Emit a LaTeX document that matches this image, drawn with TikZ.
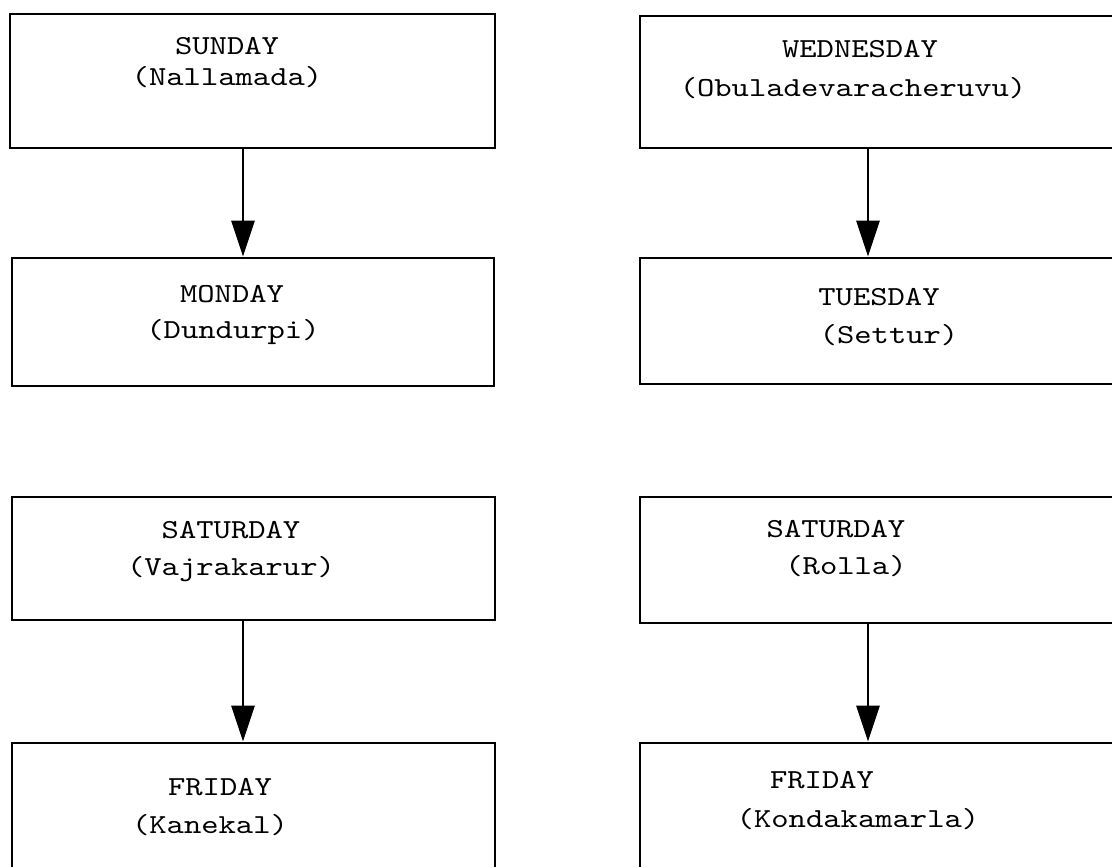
\documentclass[tikz,border=0pt]{standalone}
\usepackage{fontspec}
\newfontfamily\daytt{lmmono10-regular.otf}[FakeStretch=1.2]
\usetikzlibrary{arrows.meta}
\begin{document}
\begin{tikzpicture}[x=1pt,y=-1pt,
  daybox/.style={draw=black,line width=2.8pt,inner sep=0pt,rectangle},
  daytext/.style={anchor=base,inner sep=0pt,font=\fontsize{27.5}{33}\daytt},
  link/.style={draw=black,line width=2.8pt,-{Triangle[length=36pt,width=23pt]}}]
\useasboundingbox (0,0) rectangle (1112,867);
\fill[white] (0,0) rectangle (1112,867);
\clip (0,0) rectangle (1112,867);

% boxes (right column runs off the page edge)
\node[daybox,minimum width=485pt,minimum height=134pt] (sun)  at (252.5,81) {};
\node[daybox,minimum width=485pt,minimum height=132pt] (wed)  at (882.5,82) {};
\node[daybox,minimum width=482pt,minimum height=128pt] (mon)  at (253,322) {};
\node[daybox,minimum width=485pt,minimum height=126pt] (tue)  at (882.5,321) {};
\node[daybox,minimum width=483pt,minimum height=123pt] (satl) at (253.5,558.5) {};
\node[daybox,minimum width=485pt,minimum height=126pt] (satr) at (882.5,560) {};
\node[daybox,minimum width=483pt,minimum height=147pt] (fril) at (253.5,816.5) {};
\node[daybox,minimum width=485pt,minimum height=147pt] (frir) at (882.5,816.5) {};

% texts
\node[daytext] (tsun)  at (227,55)  {SUNDAY};
\node[daytext] (psun)  at (227,85)  {(Nallamada)};
\node[daytext] (twed)  at (860,58)  {WEDNESDAY};
\node[daytext] (pwed)  at (853,96)  {(Obuladevaracheruvu)};
\node[daytext] (tmon)  at (232,302) {MONDAY};
\node[daytext] (pmon)  at (233,338) {(Dundurpi)};
\node[daytext] (ttue)  at (879,305) {TUESDAY};
\node[daytext] (ptue)  at (889,343) {(Settur)};
\node[daytext] (tsatl) at (231,538) {SATURDAY};
\node[daytext] (psatl) at (231,575) {(Vajrakarur)};
\node[daytext] (tsatr) at (836,537) {SATURDAY};
\node[daytext] (psatr) at (846,574) {(Rolla)};
\node[daytext] (tfril) at (220,795) {FRIDAY};
\node[daytext] (pfril) at (210,833) {(Kanekal)};
\node[daytext] (tfrir) at (822,788) {FRIDAY};
\node[daytext] (pfrir) at (858,827) {(Kondakamarla)};

% arrow columns
\coordinate (lcol) at (243,0);
\coordinate (rcol) at (868,0);

\draw[link] (sun.south -| lcol)  -- (mon.north -| lcol);
\draw[link] (wed.south -| rcol)  -- (tue.north -| rcol);
\draw[link] (satl.south -| lcol) -- (fril.north -| lcol);
\draw[link] (satr.south -| rcol) -- (frir.north -| rcol);
\end{tikzpicture}
\end{document}
